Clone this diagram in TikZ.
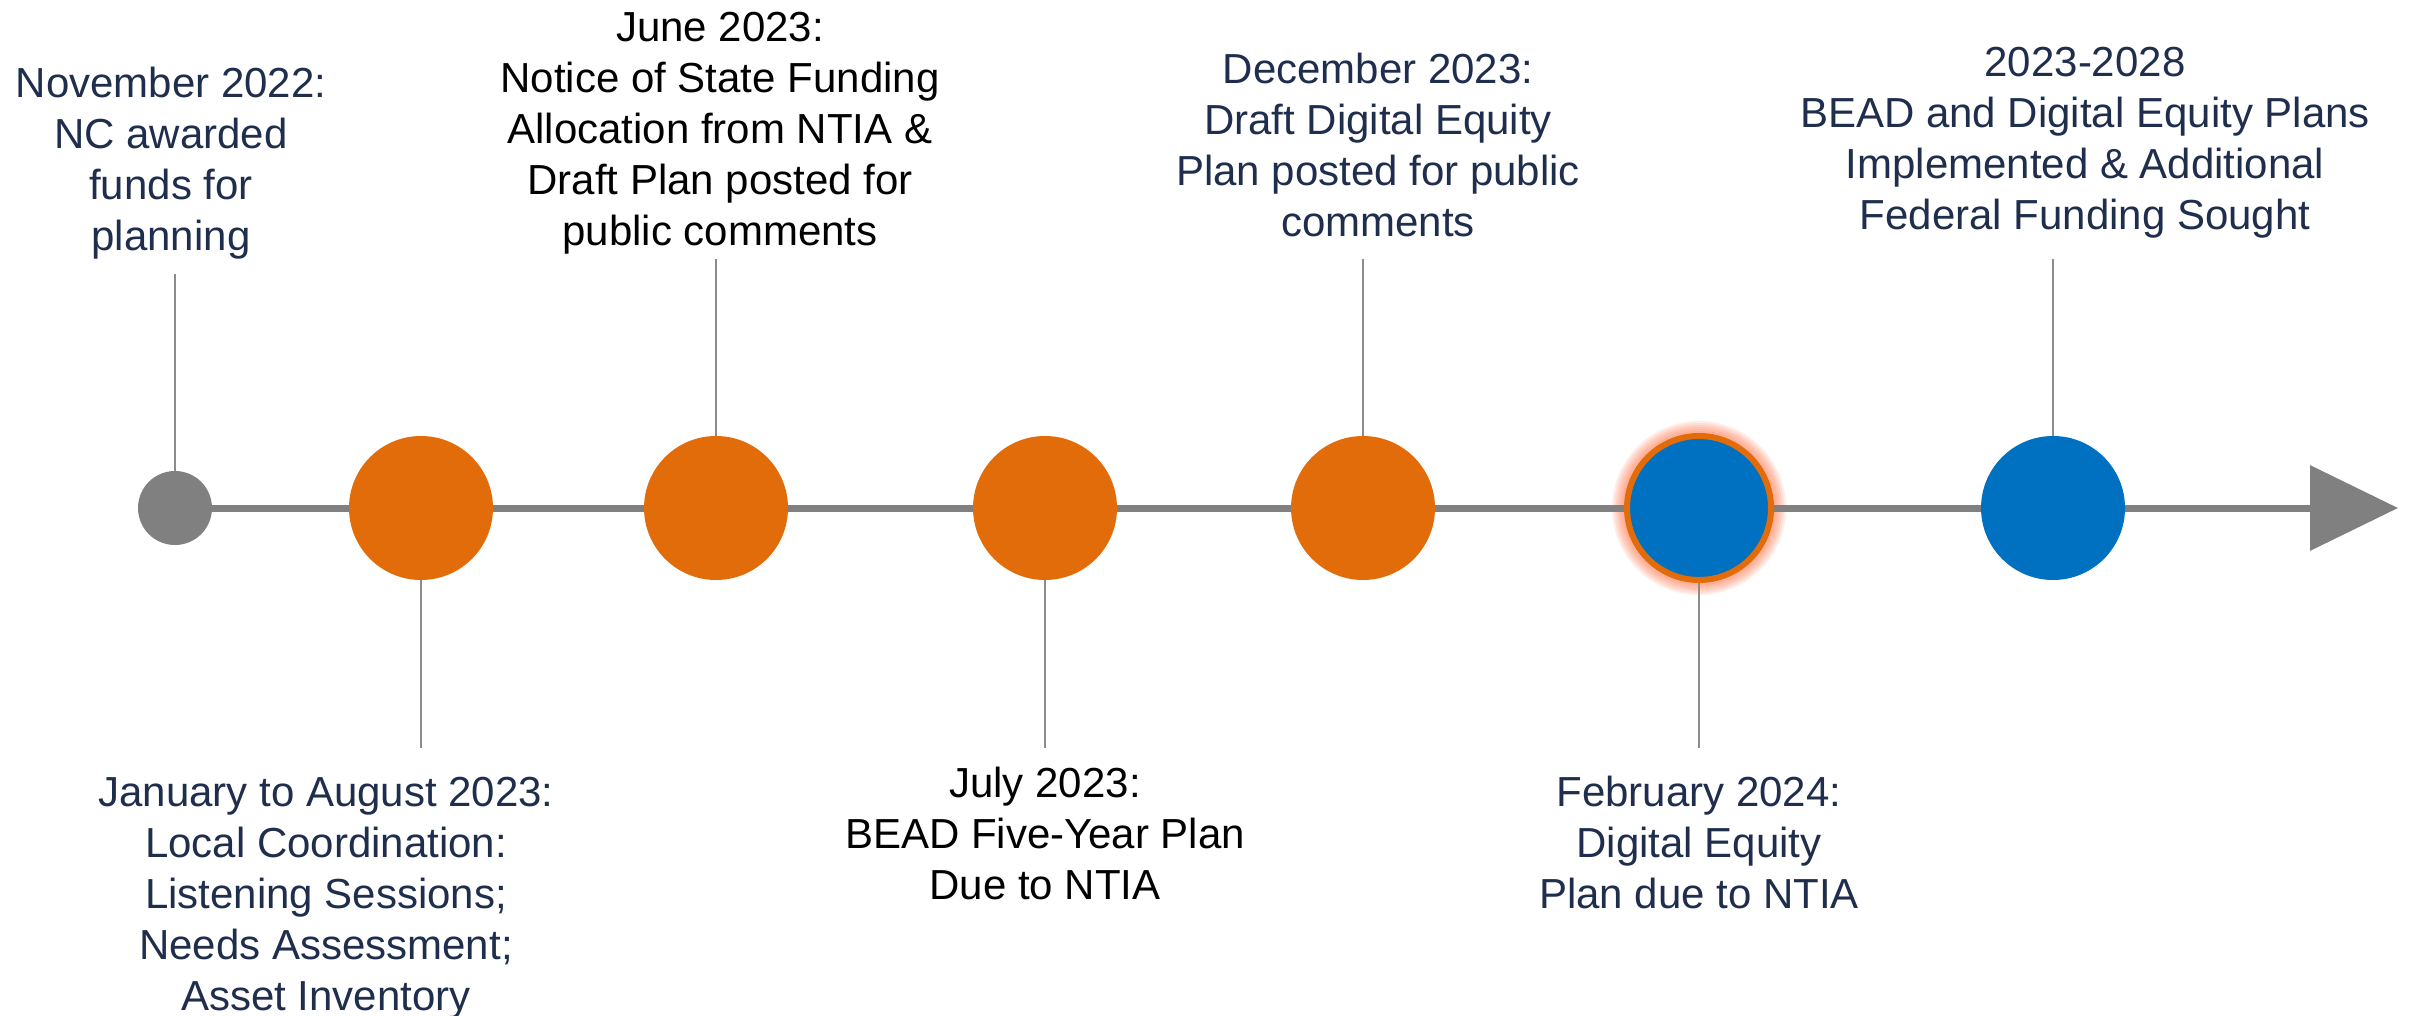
\documentclass[tikz,border=0pt]{standalone}
\usepackage{fontspec}
\setmainfont{Liberation Sans}
\usetikzlibrary{arrows.meta,backgrounds}
\definecolor{navy}{HTML}{1E2E4C}
\definecolor{mileorange}{HTML}{E36C0A}
\definecolor{mileblue}{HTML}{0070C0}
\definecolor{axisgray}{HTML}{808080}
\definecolor{tickgray}{HTML}{8C8C8C}
\definecolor{glowred}{HTML}{FF6A3D}

\begin{document}
\begin{tikzpicture}[x=0.5pt,y=-0.5pt,
  dot/.style={circle,inner sep=0pt,draw=none},
  pastdot/.style={dot,fill=axisgray,minimum size=37pt},
  donedot/.style={dot,fill=mileorange,minimum size=72pt},
  nextdot/.style={dot,fill=mileblue,minimum size=72pt},
  currentdot/.style={dot,fill=mileblue,draw=mileorange,line width=3pt,minimum size=72pt},
  caption/.style={inner sep=0pt,anchor=north,align=center,
    font=\fontsize{21}{25.5}\selectfont},
  tick/.style={draw=tickgray,line width=0.75pt},
  axis/.style={draw=axisgray,line width=3.5pt,-{Triangle[length=44pt,width=42pt]}}]

\useasboundingbox (0,0) rectangle (2412,1016);

% milestones along the time axis
\node[pastdot]    (g)  at (175,508)  {};
\node[donedot]    (o1) at (421,508)  {};
\node[donedot]    (o2) at (716,508)  {};
\node[donedot]    (o3) at (1045,508) {};
\node[donedot]    (o4) at (1363,508) {};
\node[currentdot] (b1) at (1699,508) {};
\node[nextdot]    (b2) at (2053,508) {};
\coordinate (tip) at (2398,508);

% soft halo around the current milestone, axis and ticks behind the dots
\begin{scope}[on background layer]
  \foreach \r in {87,85,83,81,79,77}
    \fill[glowred,opacity=0.12] (b1.center) circle[radius=\r];
  \path[axis] (g.center) -- (tip);
\end{scope}

% captions above the axis
\node[caption,text=navy] (tnov) at (171,67)
  {November 2022:\\NC awarded\\funds for\\planning};
\node[caption,text=black] (tjun) at (720,12)
  {June 2023:\\Notice of State Funding\\Allocation from NTIA \&\\Draft Plan posted for\\public comments};
\node[caption,text=navy] (tdec) at (1378,53)
  {December 2023:\\Draft Digital Equity\\Plan posted for public\\comments};
\node[caption,text=navy] (tfut) at (2085,47)
  {2023-2028\\BEAD and Digital Equity Plans\\Implemented \& Additional\\Federal Funding Sought};

% captions below the axis
\node[caption,text=navy] (tjan) at (326,777)
  {January to August 2023:\\Local Coordination:\\Listening Sessions;\\Needs Assessment;\\Asset Inventory};
\node[caption,text=black] (tjul) at (1045,767)
  {July 2023:\\BEAD Five-Year Plan\\Due to NTIA};
\node[caption,text=navy] (tfeb) at (1699,776)
  {February 2024:\\Digital Equity\\Plan due to NTIA};

% tick ends
\coordinate (knov) at (175,274);
\coordinate (kjun) at (716,259);
\coordinate (kdec) at (1363,259);
\coordinate (kfut) at (2053,259);
\coordinate (kjan) at (421,748);
\coordinate (kjul) at (1045,748);
\coordinate (kfeb) at (1699,748);

\path[tick] (knov) -- (g.north);
\path[tick] (kjun) -- (o2.north);
\path[tick] (kdec) -- (o4.north);
\path[tick] (kfut) -- (b2.north);
\path[tick] (o1.south) -- (kjan);
\path[tick] (o3.south) -- (kjul);
\path[tick] (b1.south) -- (kfeb);
\end{tikzpicture}
\end{document}
